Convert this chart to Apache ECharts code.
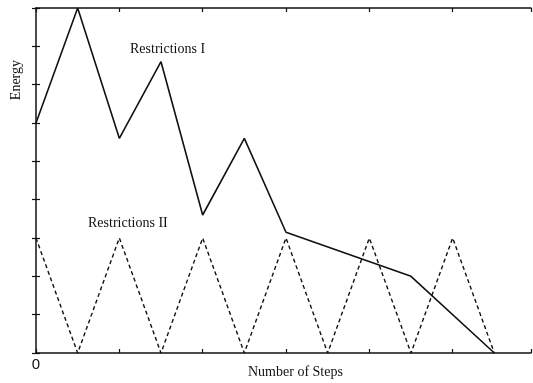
<!DOCTYPE html>
<html>
<head>
<meta charset="utf-8">
<script src="https://cdn.jsdelivr.net/npm/echarts@6/dist/echarts.min.js"></script>
<style>
  html, body { margin: 0; padding: 0; background: #fff; }
  #chart { width: 533px; height: 383px; }
</style>
</head>
<body>
<div id="chart"></div>
<script>
// Steps are counted in half-step units along the horizontal axis.
var restrictionsISteps  = [0, 1, 2, 3, 4, 5, 6, 9, 11];
var restrictionsIEnergy = [6, 9, 5.6, 7.6, 3.6, 5.6, 3.15, 2, 0];

var restrictionsIISteps  = [0, 1, 2, 3, 4, 5, 6, 7, 8, 9, 10, 11];
var restrictionsIIEnergy = [3, 0, 3, 0, 3, 0, 3, 0, 3, 0, 3, 0];

var xTickLabels = ['0'];

function pairs(xs, ys) {
  return xs.map(function (x, i) { return [x, ys[i]]; });
}

var serif = '"Liberation Serif", "DejaVu Serif", serif';
var chart = echarts.init(document.getElementById('chart'), null, { renderer: 'canvas' });

var axisLine = { show: true, onZero: false, lineStyle: { color: '#111', width: 1.5 } };
var tick = { show: true, inside: true, length: 4, lineStyle: { color: '#111', width: 1.2 } };

chart.setOption({
  animation: false,
  backgroundColor: '#fff',
  grid: { left: 36, top: 8, right: 2, bottom: 30, containLabel: false, outerBoundsMode: 'none' },
  xAxis: [
    {
      type: 'value', position: 'bottom', min: 0, max: 11.88, interval: 2,
      axisLine: axisLine, axisTick: tick, splitLine: { show: false },
      axisLabel: {
        show: true, margin: 4, color: '#111', fontSize: 15,
        fontFamily: '"Liberation Sans", Arial, sans-serif',
        formatter: function (v) { return v === 0 ? xTickLabels[0] : ''; }
      }
    },
    {
      type: 'value', position: 'top', min: 0, max: 11.88, interval: 2,
      axisLine: axisLine, axisTick: tick, splitLine: { show: false },
      axisLabel: { show: false }
    }
  ],
  yAxis: [
    {
      type: 'value', position: 'left', min: 0, max: 9, interval: 1,
      axisLine: axisLine, axisTick: tick, splitLine: { show: false },
      axisLabel: { show: false }
    },
    {
      type: 'value', position: 'right', min: 0, max: 9, interval: 1,
      axisLine: { show: false }, axisTick: tick, splitLine: { show: false },
      axisLabel: { show: false }
    }
  ],
  graphic: [
    {
      type: 'text', left: 130, top: 42,
      style: { text: 'Restrictions I', font: '14px ' + serif, fill: '#111' }
    },
    {
      type: 'text', left: 88, top: 216,
      style: { text: 'Restrictions II', font: '14px ' + serif, fill: '#111' }
    },
    {
      type: 'text', left: 9, top: 60,
      style: { text: 'Energy', font: '14px ' + serif, fill: '#111' },
      rotation: Math.PI / 2, originX: 0, originY: 0
    },
    {
      type: 'text', left: 248, top: 365,
      style: { text: 'Number of Steps', font: '14px ' + serif, fill: '#111' }
    }
  ],
  series: [
    {
      name: 'Restrictions I', type: 'line', symbol: 'none',
      data: pairs(restrictionsISteps, restrictionsIEnergy),
      lineStyle: { color: '#111', width: 1.6, type: 'solid' }
    },
    {
      name: 'Restrictions II', type: 'line', symbol: 'none',
      data: pairs(restrictionsIISteps, restrictionsIIEnergy),
      lineStyle: { color: '#111', width: 1.4, type: [4, 3] }
    }
  ]
});
</script>
</body>
</html>
